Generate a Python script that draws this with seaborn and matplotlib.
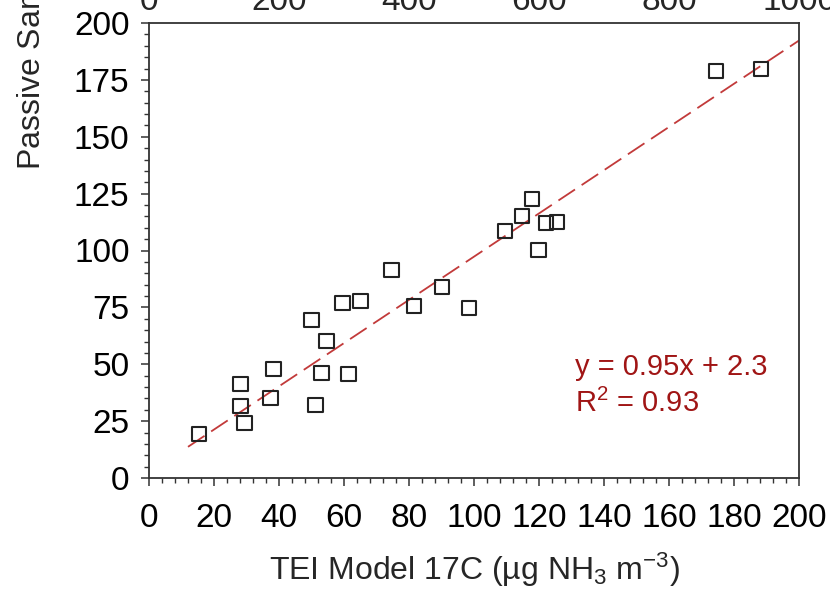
import numpy as np
import pandas as pd
import matplotlib
matplotlib.use("Agg")
import matplotlib.pyplot as plt
import matplotlib.transforms as mtransforms
from matplotlib.ticker import MultipleLocator
import seaborn as sns

# Data
tei = [15.4, 28.1, 28.1, 29.3, 37.3, 38.3, 50.0, 51.2, 53.1, 54.6, 59.6, 61.4,
       65.1, 74.7, 81.5, 90.1, 98.5, 109.6, 114.8, 117.9, 119.8, 122.2, 125.6,
       174.4, 188.3]
passive = [19.3, 41.3, 31.6, 24.2, 35.2, 47.9, 69.5, 32.1, 46.2, 60.2, 76.9, 45.7,
           77.8, 91.4, 75.6, 84.0, 74.7, 108.6, 115.2, 122.6, 100.2, 112.1, 112.5,
           178.9, 179.8]
fit_slope = 0.95
fit_intercept = 2.3
fit_x_range = [12, 200]
x_ticks = [0, 20, 40, 60, 80, 100, 120, 140, 160, 180, 200]
y_ticks = [0, 25, 50, 75, 100, 125, 150, 175, 200]
top_tick_values = [0, 200, 400, 600, 800, 1000]
top_tick_labels = ["0", "200", "400", "600", "800", "1000"]

sns.set_theme(style="ticks")
plt.rcParams["font.family"] = ["Liberation Sans", "DejaVu Sans"]
plt.rcParams["mathtext.fontset"] = "custom"
plt.rcParams["mathtext.rm"] = "Liberation Sans"
plt.rcParams["mathtext.it"] = "Liberation Sans"

TFS = 24   # tick labels
LFS = 23   # axis labels
EFS = 21   # equation

fig = plt.figure(figsize=(8.3, 5.95), dpi=100)
ax = fig.add_axes([149/830, 1-478/595, 650/830, 455/595])

df = pd.DataFrame({"tei": tei, "passive": passive})
fx = np.array(fit_x_range, dtype=float)
fit_df = pd.DataFrame({"x": fx, "y": fit_slope * fx + fit_intercept})

sns.lineplot(data=fit_df, x="x", y="y", ax=ax, color="#C23A3A", lw=1.3,
             dashes=False, zorder=1)
ax.lines[-1].set_dashes([11, 4.4])
sns.scatterplot(data=df, x="tei", y="passive", ax=ax, marker="s", s=110,
                facecolor="none", edgecolor="#222222", linewidth=1.5, zorder=3)

ax.set_xlim(0, 200)
ax.set_ylim(0, 200)
ax.set_xticks(x_ticks)
ax.set_yticks(y_ticks)
ax.xaxis.set_minor_locator(MultipleLocator(4))
ax.yaxis.set_minor_locator(MultipleLocator(5))
ax.tick_params(axis="both", which="major", direction="out", length=6, width=1.1,
               labelsize=TFS, color="#333333", labelcolor="black")
ax.tick_params(axis="y", which="major", pad=8)
ax.tick_params(axis="x", which="major", pad=12)
ax.tick_params(axis="both", which="minor", direction="out", length=3.5, width=1.0,
               color="#333333")
ax.tick_params(top=False, right=False, which="both")
for sp in ax.spines.values():
    sp.set_visible(True)
    sp.set_linewidth(1.3)
    sp.set_color("#333333")

ax.set_xlabel("TEI Model 17C (µg NH$_3$ m$^{-3}$)", fontsize=LFS, labelpad=12)
ax.set_ylabel("")

# tick labels of the panel above (0-1000 scale), partially cropped at the top
trans = mtransforms.blended_transform_factory(ax.transData, ax.transAxes)
for v, lab in zip(top_tick_values, top_tick_labels):
    ax.text(v / 5, 1.0286, lab, transform=trans, ha="center", va="baseline",
            fontsize=TFS, clip_on=False)

fig.text(31/830, 1-170/595, "Passive Sampler (µg NH$_3$ m$^{-3}$)", rotation=90,
         ha="center", va="bottom", fontsize=LFS)

ax.text(0.656, 0.243, "y = 0.95x + 2.3", transform=ax.transAxes, fontsize=EFS,
        color="#A01515", ha="left", va="center")
ax.text(0.656, 0.163, "R$^2$ = 0.93", transform=ax.transAxes, fontsize=EFS,
        color="#A01515", ha="left", va="center")

fig.savefig("out.png", dpi=100)
